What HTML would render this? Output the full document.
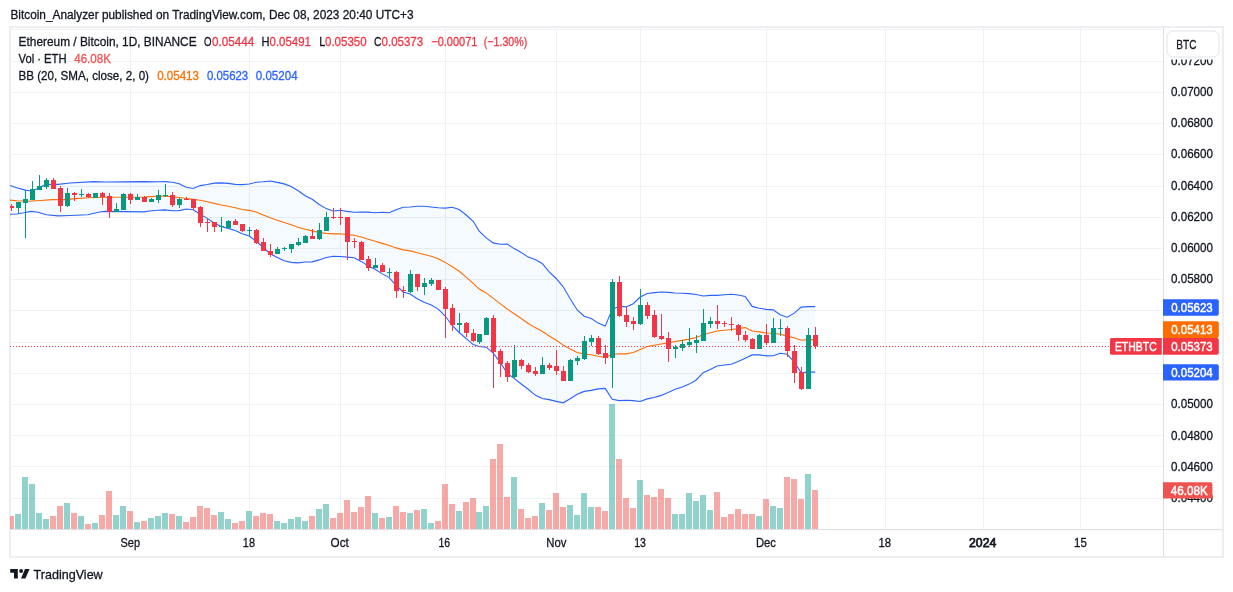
<!DOCTYPE html><html><head><meta charset="utf-8"><style>html,body{margin:0;padding:0;background:#fff;}body{width:1233px;height:592px;overflow:hidden;position:relative;}</style></head><body><svg width="1233" height="592" viewBox="0 0 1233 592" style="position:absolute;left:0;top:0;will-change:transform">
<defs><clipPath id="pane"><rect x="10" y="28" width="1153" height="501"/></clipPath></defs>
<g shape-rendering="crispEdges"><rect x="9" y="26" width="1215" height="2" fill="#eceef3"/><rect x="9" y="556" width="1215" height="2" fill="#eceef3"/><rect x="9" y="26" width="2" height="532" fill="#eceef3"/><rect x="1222" y="26" width="2" height="532" fill="#eceef3"/><rect x="1163" y="28" width="1" height="528" fill="#dedfe3"/><rect x="11" y="529" width="1211" height="1" fill="#dedfe3"/></g>
<g fill="#eff1f3" shape-rendering="crispEdges"><rect x="10" y="29" width="1153" height="1"/><rect x="10" y="61" width="1153" height="1"/><rect x="10" y="92" width="1153" height="1"/><rect x="10" y="123" width="1153" height="1"/><rect x="10" y="154" width="1153" height="1"/><rect x="10" y="186" width="1153" height="1"/><rect x="10" y="217" width="1153" height="1"/><rect x="10" y="248" width="1153" height="1"/><rect x="10" y="279" width="1153" height="1"/><rect x="10" y="310" width="1153" height="1"/><rect x="10" y="342" width="1153" height="1"/><rect x="10" y="373" width="1153" height="1"/><rect x="10" y="404" width="1153" height="1"/><rect x="10" y="435" width="1153" height="1"/><rect x="10" y="466" width="1153" height="1"/><rect x="10" y="498" width="1153" height="1"/><rect x="130" y="28" width="1" height="501"/><rect x="249" y="28" width="1" height="501"/><rect x="340" y="28" width="1" height="501"/><rect x="445" y="28" width="1" height="501"/><rect x="556" y="28" width="1" height="501"/><rect x="640" y="28" width="1" height="501"/><rect x="766" y="28" width="1" height="501"/><rect x="885" y="28" width="1" height="501"/><rect x="983" y="28" width="1" height="501"/><rect x="1080" y="28" width="1" height="501"/></g>
<g clip-path="url(#pane)">
<polygon points="10.0,185.4 16.8,187.7 25.3,190.1 29.8,190.7 35.7,189.5 44.0,185.4 52.3,184.2 58.2,184.4 70.0,183.0 93.7,181.6 105.0,182.0 144.2,181.6 151.2,181.9 158.2,181.8 165.2,181.6 172.2,182.3 179.2,183.8 186.2,187.3 193.2,188.5 200.2,185.6 207.2,184.5 214.2,183.1 221.2,182.9 228.2,183.4 235.2,184.4 242.2,184.6 249.2,184.0 256.2,182.2 263.2,181.7 270.2,181.0 277.2,182.4 284.2,183.9 291.2,186.6 298.2,190.8 305.2,195.8 312.2,199.3 319.2,204.5 326.2,208.6 333.2,211.0 340.2,210.2 347.2,211.4 354.2,212.2 361.2,212.0 368.2,212.1 375.2,212.8 382.2,212.3 389.2,212.8 396.2,209.7 403.2,207.3 410.2,207.0 417.2,206.2 424.2,206.2 431.2,207.0 438.2,207.8 445.2,208.1 452.2,207.2 459.2,209.6 466.2,215.0 473.2,221.3 479.2,231.1 486.2,237.9 493.2,242.9 500.2,244.3 507.2,244.1 514.2,248.6 521.2,252.4 528.2,257.1 535.2,259.5 542.2,263.5 549.2,271.8 556.2,278.5 563.2,286.8 570.2,298.7 577.2,310.0 584.2,316.2 591.2,318.5 598.2,323.1 605.2,326.1 612.2,309.3 619.2,306.2 626.2,306.9 633.2,303.7 640.2,297.0 647.2,293.5 654.2,292.6 661.2,292.0 668.2,292.4 675.2,293.0 682.2,293.2 689.2,293.6 696.2,294.5 703.2,296.0 710.2,295.4 717.2,295.4 724.2,294.8 731.2,294.2 738.2,295.0 745.2,296.4 752.2,306.4 759.2,308.3 766.2,309.4 773.2,309.9 780.2,314.7 787.2,317.2 794.2,313.1 801.2,307.1 808.2,306.6 815.2,306.6 815.2,372.1 808.2,372.1 801.2,372.9 794.2,362.0 787.2,354.3 780.2,353.3 773.2,355.8 766.2,355.9 759.2,354.9 752.2,354.9 745.2,358.3 738.2,361.4 731.2,364.2 724.2,365.0 717.2,366.0 710.2,369.4 703.2,372.7 696.2,380.0 689.2,384.1 682.2,387.0 675.2,389.3 668.2,392.6 661.2,395.4 654.2,397.5 647.2,398.9 640.2,401.5 633.2,400.6 626.2,400.2 619.2,400.6 612.2,399.2 605.2,388.4 598.2,388.9 591.2,390.4 584.2,391.4 577.2,394.3 570.2,398.8 563.2,402.8 556.2,401.4 549.2,399.6 542.2,398.5 535.2,395.1 528.2,389.3 521.2,384.0 514.2,378.4 507.2,373.4 500.2,362.3 493.2,353.2 486.2,347.2 479.2,346.5 473.2,344.6 466.2,338.7 459.2,332.5 452.2,325.5 445.2,316.0 438.2,309.1 431.2,305.1 424.2,302.3 417.2,298.7 410.2,294.1 403.2,291.9 396.2,285.5 389.2,277.6 382.2,273.9 375.2,269.2 368.2,265.9 361.2,261.4 354.2,257.8 347.2,257.1 340.2,256.5 333.2,256.2 326.2,257.5 319.2,259.9 312.2,261.9 305.2,262.0 298.2,262.9 291.2,262.4 284.2,260.7 277.2,257.5 270.2,253.7 263.2,247.5 256.2,241.3 249.2,236.1 242.2,233.7 235.2,230.5 228.2,228.4 221.2,226.5 214.2,223.0 207.2,218.4 200.2,214.3 193.2,209.7 186.2,209.0 179.2,210.6 172.2,210.8 165.2,209.9 158.2,210.2 151.2,210.8 144.2,211.9 105.0,211.4 99.6,212.0 87.7,214.7 70.0,215.5 58.2,215.9 46.4,214.7 38.1,212.3 31.0,211.4 23.9,212.8 16.8,214.0 10.0,214.3" fill="#2196f3" fill-opacity="0.05"/>
<g shape-rendering="crispEdges"><rect x="8" y="516.0" width="6" height="13.0" fill="rgba(239,83,80,0.5)"/><rect x="15" y="514.0" width="6" height="15.0" fill="rgba(38,166,154,0.5)"/><rect x="22" y="477.0" width="6" height="52.0" fill="rgba(38,166,154,0.5)"/><rect x="29" y="484.0" width="6" height="45.0" fill="rgba(38,166,154,0.5)"/><rect x="36" y="513.0" width="6" height="16.0" fill="rgba(38,166,154,0.5)"/><rect x="43" y="519.0" width="6" height="10.0" fill="rgba(38,166,154,0.5)"/><rect x="50" y="516.0" width="6" height="13.0" fill="rgba(239,83,80,0.5)"/><rect x="57" y="506.0" width="6" height="23.0" fill="rgba(239,83,80,0.5)"/><rect x="64" y="503.0" width="6" height="26.0" fill="rgba(38,166,154,0.5)"/><rect x="71" y="513.0" width="6" height="16.0" fill="rgba(239,83,80,0.5)"/><rect x="78" y="516.0" width="6" height="13.0" fill="rgba(38,166,154,0.5)"/><rect x="85" y="524.0" width="6" height="5.0" fill="rgba(239,83,80,0.5)"/><rect x="92" y="523.0" width="6" height="6.0" fill="rgba(38,166,154,0.5)"/><rect x="99" y="515.0" width="6" height="14.0" fill="rgba(239,83,80,0.5)"/><rect x="106" y="491.0" width="6" height="38.0" fill="rgba(239,83,80,0.5)"/><rect x="113" y="515.0" width="6" height="14.0" fill="rgba(38,166,154,0.5)"/><rect x="120" y="506.0" width="6" height="23.0" fill="rgba(38,166,154,0.5)"/><rect x="127" y="511.0" width="6" height="18.0" fill="rgba(239,83,80,0.5)"/><rect x="134" y="522.0" width="6" height="7.0" fill="rgba(38,166,154,0.5)"/><rect x="141" y="521.0" width="6" height="8.0" fill="rgba(239,83,80,0.5)"/><rect x="148" y="518.0" width="6" height="11.0" fill="rgba(38,166,154,0.5)"/><rect x="155" y="516.0" width="6" height="13.0" fill="rgba(38,166,154,0.5)"/><rect x="162" y="513.0" width="6" height="16.0" fill="rgba(38,166,154,0.5)"/><rect x="169" y="514.0" width="6" height="15.0" fill="rgba(239,83,80,0.5)"/><rect x="176" y="516.0" width="6" height="13.0" fill="rgba(38,166,154,0.5)"/><rect x="183" y="522.0" width="6" height="7.0" fill="rgba(239,83,80,0.5)"/><rect x="190" y="517.0" width="6" height="12.0" fill="rgba(239,83,80,0.5)"/><rect x="197" y="506.0" width="6" height="23.0" fill="rgba(239,83,80,0.5)"/><rect x="204" y="508.0" width="6" height="21.0" fill="rgba(239,83,80,0.5)"/><rect x="211" y="515.0" width="6" height="14.0" fill="rgba(239,83,80,0.5)"/><rect x="218" y="512.0" width="6" height="17.0" fill="rgba(38,166,154,0.5)"/><rect x="225" y="519.0" width="6" height="10.0" fill="rgba(38,166,154,0.5)"/><rect x="232" y="523.0" width="6" height="6.0" fill="rgba(239,83,80,0.5)"/><rect x="239" y="521.0" width="6" height="8.0" fill="rgba(239,83,80,0.5)"/><rect x="246" y="511.0" width="6" height="18.0" fill="rgba(38,166,154,0.5)"/><rect x="253" y="516.0" width="6" height="13.0" fill="rgba(239,83,80,0.5)"/><rect x="260" y="513.0" width="6" height="16.0" fill="rgba(239,83,80,0.5)"/><rect x="267" y="514.0" width="6" height="15.0" fill="rgba(239,83,80,0.5)"/><rect x="274" y="521.0" width="6" height="8.0" fill="rgba(38,166,154,0.5)"/><rect x="281" y="523.0" width="6" height="6.0" fill="rgba(38,166,154,0.5)"/><rect x="288" y="519.0" width="6" height="10.0" fill="rgba(38,166,154,0.5)"/><rect x="295" y="517.0" width="6" height="12.0" fill="rgba(38,166,154,0.5)"/><rect x="302" y="521.0" width="6" height="8.0" fill="rgba(38,166,154,0.5)"/><rect x="309" y="516.0" width="6" height="13.0" fill="rgba(239,83,80,0.5)"/><rect x="316" y="509.0" width="6" height="20.0" fill="rgba(38,166,154,0.5)"/><rect x="323" y="504.0" width="6" height="25.0" fill="rgba(38,166,154,0.5)"/><rect x="330" y="518.0" width="6" height="11.0" fill="rgba(239,83,80,0.5)"/><rect x="337" y="513.0" width="6" height="16.0" fill="rgba(239,83,80,0.5)"/><rect x="344" y="500.0" width="6" height="29.0" fill="rgba(239,83,80,0.5)"/><rect x="351" y="512.0" width="6" height="17.0" fill="rgba(239,83,80,0.5)"/><rect x="358" y="507.0" width="6" height="22.0" fill="rgba(239,83,80,0.5)"/><rect x="365" y="496.0" width="6" height="33.0" fill="rgba(239,83,80,0.5)"/><rect x="372" y="513.0" width="6" height="16.0" fill="rgba(38,166,154,0.5)"/><rect x="379" y="518.0" width="6" height="11.0" fill="rgba(239,83,80,0.5)"/><rect x="386" y="517.0" width="6" height="12.0" fill="rgba(38,166,154,0.5)"/><rect x="393" y="506.0" width="6" height="23.0" fill="rgba(239,83,80,0.5)"/><rect x="400" y="512.0" width="6" height="17.0" fill="rgba(239,83,80,0.5)"/><rect x="407" y="513.0" width="6" height="16.0" fill="rgba(38,166,154,0.5)"/><rect x="414" y="510.0" width="6" height="19.0" fill="rgba(239,83,80,0.5)"/><rect x="421" y="509.0" width="6" height="20.0" fill="rgba(38,166,154,0.5)"/><rect x="428" y="523.0" width="6" height="6.0" fill="rgba(38,166,154,0.5)"/><rect x="435" y="521.0" width="6" height="8.0" fill="rgba(239,83,80,0.5)"/><rect x="442" y="484.0" width="6" height="45.0" fill="rgba(239,83,80,0.5)"/><rect x="449" y="504.0" width="6" height="25.0" fill="rgba(239,83,80,0.5)"/><rect x="456" y="511.0" width="6" height="18.0" fill="rgba(38,166,154,0.5)"/><rect x="463" y="502.0" width="6" height="27.0" fill="rgba(239,83,80,0.5)"/><rect x="470" y="498.0" width="6" height="31.0" fill="rgba(239,83,80,0.5)"/><rect x="476" y="512.0" width="6" height="17.0" fill="rgba(38,166,154,0.5)"/><rect x="483" y="506.0" width="6" height="23.0" fill="rgba(38,166,154,0.5)"/><rect x="490" y="459.0" width="6" height="70.0" fill="rgba(239,83,80,0.5)"/><rect x="497" y="444.0" width="6" height="85.0" fill="rgba(239,83,80,0.5)"/><rect x="504" y="497.0" width="6" height="32.0" fill="rgba(239,83,80,0.5)"/><rect x="511" y="477.0" width="6" height="52.0" fill="rgba(38,166,154,0.5)"/><rect x="518" y="509.0" width="6" height="20.0" fill="rgba(239,83,80,0.5)"/><rect x="525" y="518.0" width="6" height="11.0" fill="rgba(239,83,80,0.5)"/><rect x="532" y="516.0" width="6" height="13.0" fill="rgba(239,83,80,0.5)"/><rect x="539" y="503.0" width="6" height="26.0" fill="rgba(38,166,154,0.5)"/><rect x="546" y="510.0" width="6" height="19.0" fill="rgba(239,83,80,0.5)"/><rect x="553" y="493.0" width="6" height="36.0" fill="rgba(239,83,80,0.5)"/><rect x="560" y="507.0" width="6" height="22.0" fill="rgba(239,83,80,0.5)"/><rect x="567" y="505.0" width="6" height="24.0" fill="rgba(38,166,154,0.5)"/><rect x="574" y="515.0" width="6" height="14.0" fill="rgba(38,166,154,0.5)"/><rect x="581" y="493.0" width="6" height="36.0" fill="rgba(38,166,154,0.5)"/><rect x="588" y="507.0" width="6" height="22.0" fill="rgba(38,166,154,0.5)"/><rect x="595" y="507.0" width="6" height="22.0" fill="rgba(239,83,80,0.5)"/><rect x="602" y="511.0" width="6" height="18.0" fill="rgba(239,83,80,0.5)"/><rect x="609" y="404.0" width="6" height="125.0" fill="rgba(38,166,154,0.5)"/><rect x="616" y="459.0" width="6" height="70.0" fill="rgba(239,83,80,0.5)"/><rect x="623" y="498.0" width="6" height="31.0" fill="rgba(239,83,80,0.5)"/><rect x="630" y="508.0" width="6" height="21.0" fill="rgba(239,83,80,0.5)"/><rect x="637" y="480.0" width="6" height="49.0" fill="rgba(38,166,154,0.5)"/><rect x="644" y="495.0" width="6" height="34.0" fill="rgba(239,83,80,0.5)"/><rect x="651" y="497.0" width="6" height="32.0" fill="rgba(239,83,80,0.5)"/><rect x="658" y="489.0" width="6" height="40.0" fill="rgba(239,83,80,0.5)"/><rect x="665" y="498.0" width="6" height="31.0" fill="rgba(239,83,80,0.5)"/><rect x="672" y="514.0" width="6" height="15.0" fill="rgba(38,166,154,0.5)"/><rect x="679" y="514.0" width="6" height="15.0" fill="rgba(38,166,154,0.5)"/><rect x="686" y="493.0" width="6" height="36.0" fill="rgba(38,166,154,0.5)"/><rect x="693" y="501.0" width="6" height="28.0" fill="rgba(38,166,154,0.5)"/><rect x="700" y="495.0" width="6" height="34.0" fill="rgba(38,166,154,0.5)"/><rect x="707" y="510.0" width="6" height="19.0" fill="rgba(38,166,154,0.5)"/><rect x="714" y="492.0" width="6" height="37.0" fill="rgba(239,83,80,0.5)"/><rect x="721" y="517.0" width="6" height="12.0" fill="rgba(239,83,80,0.5)"/><rect x="728" y="514.0" width="6" height="15.0" fill="rgba(239,83,80,0.5)"/><rect x="735" y="509.0" width="6" height="20.0" fill="rgba(239,83,80,0.5)"/><rect x="742" y="514.0" width="6" height="15.0" fill="rgba(239,83,80,0.5)"/><rect x="749" y="514.0" width="6" height="15.0" fill="rgba(239,83,80,0.5)"/><rect x="756" y="516.0" width="6" height="13.0" fill="rgba(38,166,154,0.5)"/><rect x="763" y="499.0" width="6" height="30.0" fill="rgba(239,83,80,0.5)"/><rect x="770" y="506.0" width="6" height="23.0" fill="rgba(38,166,154,0.5)"/><rect x="777" y="508.0" width="6" height="21.0" fill="rgba(38,166,154,0.5)"/><rect x="784" y="477.0" width="6" height="52.0" fill="rgba(239,83,80,0.5)"/><rect x="791" y="479.0" width="6" height="50.0" fill="rgba(239,83,80,0.5)"/><rect x="798" y="499.0" width="6" height="30.0" fill="rgba(239,83,80,0.5)"/><rect x="805" y="474.0" width="6" height="55.0" fill="rgba(38,166,154,0.5)"/><rect x="812" y="490.0" width="6" height="39.0" fill="rgba(239,83,80,0.5)"/></g>
<polyline points="10.0,185.4 16.8,187.7 25.3,190.1 29.8,190.7 35.7,189.5 44.0,185.4 52.3,184.2 58.2,184.4 70.0,183.0 93.7,181.6 105.0,182.0 144.2,181.6 151.2,181.9 158.2,181.8 165.2,181.6 172.2,182.3 179.2,183.8 186.2,187.3 193.2,188.5 200.2,185.6 207.2,184.5 214.2,183.1 221.2,182.9 228.2,183.4 235.2,184.4 242.2,184.6 249.2,184.0 256.2,182.2 263.2,181.7 270.2,181.0 277.2,182.4 284.2,183.9 291.2,186.6 298.2,190.8 305.2,195.8 312.2,199.3 319.2,204.5 326.2,208.6 333.2,211.0 340.2,210.2 347.2,211.4 354.2,212.2 361.2,212.0 368.2,212.1 375.2,212.8 382.2,212.3 389.2,212.8 396.2,209.7 403.2,207.3 410.2,207.0 417.2,206.2 424.2,206.2 431.2,207.0 438.2,207.8 445.2,208.1 452.2,207.2 459.2,209.6 466.2,215.0 473.2,221.3 479.2,231.1 486.2,237.9 493.2,242.9 500.2,244.3 507.2,244.1 514.2,248.6 521.2,252.4 528.2,257.1 535.2,259.5 542.2,263.5 549.2,271.8 556.2,278.5 563.2,286.8 570.2,298.7 577.2,310.0 584.2,316.2 591.2,318.5 598.2,323.1 605.2,326.1 612.2,309.3 619.2,306.2 626.2,306.9 633.2,303.7 640.2,297.0 647.2,293.5 654.2,292.6 661.2,292.0 668.2,292.4 675.2,293.0 682.2,293.2 689.2,293.6 696.2,294.5 703.2,296.0 710.2,295.4 717.2,295.4 724.2,294.8 731.2,294.2 738.2,295.0 745.2,296.4 752.2,306.4 759.2,308.3 766.2,309.4 773.2,309.9 780.2,314.7 787.2,317.2 794.2,313.1 801.2,307.1 808.2,306.6 815.2,306.6" fill="none" stroke="#2962ff" stroke-width="1.1"/>
<polyline points="10.0,214.3 16.8,214.0 23.9,212.8 31.0,211.4 38.1,212.3 46.4,214.7 58.2,215.9 70.0,215.5 87.7,214.7 99.6,212.0 105.0,211.4 144.2,211.9 151.2,210.8 158.2,210.2 165.2,209.9 172.2,210.8 179.2,210.6 186.2,209.0 193.2,209.7 200.2,214.3 207.2,218.4 214.2,223.0 221.2,226.5 228.2,228.4 235.2,230.5 242.2,233.7 249.2,236.1 256.2,241.3 263.2,247.5 270.2,253.7 277.2,257.5 284.2,260.7 291.2,262.4 298.2,262.9 305.2,262.0 312.2,261.9 319.2,259.9 326.2,257.5 333.2,256.2 340.2,256.5 347.2,257.1 354.2,257.8 361.2,261.4 368.2,265.9 375.2,269.2 382.2,273.9 389.2,277.6 396.2,285.5 403.2,291.9 410.2,294.1 417.2,298.7 424.2,302.3 431.2,305.1 438.2,309.1 445.2,316.0 452.2,325.5 459.2,332.5 466.2,338.7 473.2,344.6 479.2,346.5 486.2,347.2 493.2,353.2 500.2,362.3 507.2,373.4 514.2,378.4 521.2,384.0 528.2,389.3 535.2,395.1 542.2,398.5 549.2,399.6 556.2,401.4 563.2,402.8 570.2,398.8 577.2,394.3 584.2,391.4 591.2,390.4 598.2,388.9 605.2,388.4 612.2,399.2 619.2,400.6 626.2,400.2 633.2,400.6 640.2,401.5 647.2,398.9 654.2,397.5 661.2,395.4 668.2,392.6 675.2,389.3 682.2,387.0 689.2,384.1 696.2,380.0 703.2,372.7 710.2,369.4 717.2,366.0 724.2,365.0 731.2,364.2 738.2,361.4 745.2,358.3 752.2,354.9 759.2,354.9 766.2,355.9 773.2,355.8 780.2,353.3 787.2,354.3 794.2,362.0 801.2,372.9 808.2,372.1 815.2,372.1" fill="none" stroke="#2962ff" stroke-width="1.1"/>
<polyline points="10.0,200.1 16.8,200.7 28.6,201.3 40.5,200.5 52.3,199.6 64.1,199.6 75.9,198.6 87.7,197.8 105.0,197.2 144.2,197.0 151.2,196.6 158.2,196.3 165.2,196.1 172.2,196.8 179.2,197.5 186.2,198.5 193.2,199.4 200.2,200.2 207.2,201.7 214.2,203.4 221.2,205.0 228.2,206.2 235.2,207.8 242.2,209.5 249.2,210.4 256.2,212.0 263.2,214.9 270.2,217.7 277.2,220.3 284.2,222.6 291.2,224.8 298.2,227.2 305.2,229.2 312.2,230.9 319.2,232.5 326.2,233.4 333.2,233.9 340.2,233.7 347.2,234.6 354.2,235.3 361.2,237.0 368.2,239.3 375.2,241.3 382.2,243.4 389.2,245.5 396.2,247.9 403.2,249.9 410.2,250.9 417.2,252.8 424.2,254.5 431.2,256.3 438.2,258.7 445.2,262.4 452.2,266.7 459.2,271.3 466.2,277.1 473.2,283.3 479.2,289.1 486.2,292.9 493.2,298.4 500.2,303.6 507.2,309.0 514.2,313.8 521.2,318.5 528.2,323.5 535.2,327.6 542.2,331.3 549.2,336.0 556.2,340.2 563.2,345.1 570.2,349.1 577.2,352.5 584.2,354.1 591.2,354.8 598.2,356.3 605.2,357.5 612.2,354.6 619.2,353.7 626.2,353.9 633.2,352.5 640.2,349.5 647.2,346.5 654.2,345.3 661.2,344.0 668.2,342.8 675.2,341.5 682.2,340.4 689.2,339.1 696.2,337.5 703.2,334.7 710.2,332.7 717.2,331.0 724.2,330.2 731.2,329.5 738.2,328.5 745.2,327.6 752.2,331.0 759.2,331.9 766.2,333.0 773.2,333.2 780.2,334.3 787.2,336.1 794.2,337.8 801.2,340.3 808.2,339.6 815.2,339.6" fill="none" stroke="#ff6d00" stroke-width="1.1"/>
<g shape-rendering="crispEdges"><rect x="11" y="204" width="1" height="7" fill="#f23645"/><rect x="9" y="206" width="5" height="2" fill="#f23645"/><rect x="18" y="202" width="1" height="11" fill="#089981"/><rect x="16" y="202" width="5" height="6" fill="#089981"/><rect x="25" y="190" width="1" height="48" fill="#089981"/><rect x="23" y="199" width="5" height="4" fill="#089981"/><rect x="32" y="181" width="1" height="19" fill="#089981"/><rect x="30" y="189" width="5" height="11" fill="#089981"/><rect x="39" y="175" width="1" height="15" fill="#089981"/><rect x="37" y="186" width="5" height="4" fill="#089981"/><rect x="46" y="178" width="1" height="11" fill="#089981"/><rect x="44" y="180" width="5" height="7" fill="#089981"/><rect x="53" y="178" width="1" height="11" fill="#f23645"/><rect x="51" y="180" width="5" height="9" fill="#f23645"/><rect x="60" y="186" width="1" height="26" fill="#f23645"/><rect x="58" y="188" width="5" height="18" fill="#f23645"/><rect x="67" y="188" width="1" height="19" fill="#089981"/><rect x="65" y="193" width="5" height="13" fill="#089981"/><rect x="74" y="192" width="1" height="9" fill="#f23645"/><rect x="72" y="193" width="5" height="2" fill="#f23645"/><rect x="81" y="189" width="1" height="8" fill="#089981"/><rect x="79" y="194" width="5" height="1" fill="#089981"/><rect x="88" y="193" width="1" height="5" fill="#f23645"/><rect x="86" y="194" width="5" height="3" fill="#f23645"/><rect x="95" y="193" width="1" height="5" fill="#089981"/><rect x="93" y="193" width="5" height="5" fill="#089981"/><rect x="102" y="192" width="1" height="13" fill="#f23645"/><rect x="100" y="193" width="5" height="4" fill="#f23645"/><rect x="109" y="193" width="1" height="25" fill="#f23645"/><rect x="107" y="196" width="5" height="16" fill="#f23645"/><rect x="116" y="203" width="1" height="9" fill="#089981"/><rect x="114" y="209" width="5" height="3" fill="#089981"/><rect x="123" y="193" width="1" height="17" fill="#089981"/><rect x="121" y="194" width="5" height="16" fill="#089981"/><rect x="130" y="193" width="1" height="11" fill="#f23645"/><rect x="128" y="194" width="5" height="6" fill="#f23645"/><rect x="137" y="194" width="1" height="6" fill="#089981"/><rect x="135" y="197" width="5" height="3" fill="#089981"/><rect x="144" y="196" width="1" height="6" fill="#f23645"/><rect x="142" y="197" width="5" height="5" fill="#f23645"/><rect x="151" y="198" width="1" height="4" fill="#089981"/><rect x="149" y="199" width="5" height="3" fill="#089981"/><rect x="158" y="190" width="1" height="13" fill="#089981"/><rect x="156" y="195" width="5" height="5" fill="#089981"/><rect x="165" y="184" width="1" height="13" fill="#089981"/><rect x="163" y="195" width="5" height="1" fill="#089981"/><rect x="172" y="192" width="1" height="15" fill="#f23645"/><rect x="170" y="195" width="5" height="10" fill="#f23645"/><rect x="179" y="198" width="1" height="10" fill="#089981"/><rect x="177" y="199" width="5" height="6" fill="#089981"/><rect x="186" y="197" width="1" height="3" fill="#f23645"/><rect x="184" y="199" width="5" height="1" fill="#f23645"/><rect x="193" y="199" width="1" height="11" fill="#f23645"/><rect x="191" y="199" width="5" height="9" fill="#f23645"/><rect x="200" y="206" width="1" height="21" fill="#f23645"/><rect x="198" y="207" width="5" height="16" fill="#f23645"/><rect x="207" y="219" width="1" height="13" fill="#f23645"/><rect x="205" y="222" width="5" height="1" fill="#f23645"/><rect x="214" y="222" width="1" height="10" fill="#f23645"/><rect x="212" y="222" width="5" height="5" fill="#f23645"/><rect x="221" y="217" width="1" height="15" fill="#089981"/><rect x="219" y="226" width="5" height="1" fill="#089981"/><rect x="228" y="220" width="1" height="9" fill="#089981"/><rect x="226" y="221" width="5" height="7" fill="#089981"/><rect x="235" y="219" width="1" height="6" fill="#f23645"/><rect x="233" y="221" width="5" height="4" fill="#f23645"/><rect x="242" y="224" width="1" height="8" fill="#f23645"/><rect x="240" y="224" width="5" height="7" fill="#f23645"/><rect x="249" y="227" width="1" height="10" fill="#089981"/><rect x="247" y="230" width="5" height="1" fill="#089981"/><rect x="256" y="229" width="1" height="15" fill="#f23645"/><rect x="254" y="230" width="5" height="13" fill="#f23645"/><rect x="263" y="238" width="1" height="13" fill="#f23645"/><rect x="261" y="242" width="5" height="9" fill="#f23645"/><rect x="270" y="244" width="1" height="13" fill="#f23645"/><rect x="268" y="251" width="5" height="4" fill="#f23645"/><rect x="277" y="247" width="1" height="7" fill="#089981"/><rect x="275" y="249" width="5" height="5" fill="#089981"/><rect x="284" y="247" width="1" height="4" fill="#089981"/><rect x="282" y="248" width="5" height="1" fill="#089981"/><rect x="291" y="244" width="1" height="9" fill="#089981"/><rect x="289" y="244" width="5" height="5" fill="#089981"/><rect x="298" y="238" width="1" height="8" fill="#089981"/><rect x="296" y="242" width="5" height="3" fill="#089981"/><rect x="305" y="235" width="1" height="8" fill="#089981"/><rect x="303" y="236" width="5" height="7" fill="#089981"/><rect x="312" y="229" width="1" height="10" fill="#f23645"/><rect x="310" y="236" width="5" height="3" fill="#f23645"/><rect x="319" y="223" width="1" height="17" fill="#089981"/><rect x="317" y="230" width="5" height="9" fill="#089981"/><rect x="326" y="212" width="1" height="19" fill="#089981"/><rect x="324" y="217" width="5" height="14" fill="#089981"/><rect x="333" y="208" width="1" height="11" fill="#f23645"/><rect x="331" y="217" width="5" height="1" fill="#f23645"/><rect x="340" y="208" width="1" height="17" fill="#f23645"/><rect x="338" y="217" width="5" height="1" fill="#f23645"/><rect x="347" y="217" width="1" height="43" fill="#f23645"/><rect x="345" y="217" width="5" height="25" fill="#f23645"/><rect x="354" y="238" width="1" height="10" fill="#f23645"/><rect x="352" y="241" width="5" height="1" fill="#f23645"/><rect x="361" y="241" width="1" height="19" fill="#f23645"/><rect x="359" y="242" width="5" height="18" fill="#f23645"/><rect x="368" y="256" width="1" height="15" fill="#f23645"/><rect x="366" y="259" width="5" height="9" fill="#f23645"/><rect x="375" y="258" width="1" height="10" fill="#089981"/><rect x="373" y="265" width="5" height="3" fill="#089981"/><rect x="382" y="263" width="1" height="9" fill="#f23645"/><rect x="380" y="265" width="5" height="7" fill="#f23645"/><rect x="389" y="268" width="1" height="9" fill="#089981"/><rect x="387" y="272" width="5" height="1" fill="#089981"/><rect x="396" y="271" width="1" height="27" fill="#f23645"/><rect x="394" y="272" width="5" height="19" fill="#f23645"/><rect x="403" y="286" width="1" height="12" fill="#f23645"/><rect x="401" y="290" width="5" height="1" fill="#f23645"/><rect x="410" y="270" width="1" height="23" fill="#089981"/><rect x="408" y="274" width="5" height="18" fill="#089981"/><rect x="417" y="274" width="1" height="17" fill="#f23645"/><rect x="415" y="274" width="5" height="13" fill="#f23645"/><rect x="424" y="278" width="1" height="17" fill="#089981"/><rect x="422" y="283" width="5" height="4" fill="#089981"/><rect x="431" y="278" width="1" height="8" fill="#089981"/><rect x="429" y="280" width="5" height="4" fill="#089981"/><rect x="438" y="280" width="1" height="10" fill="#f23645"/><rect x="436" y="280" width="5" height="10" fill="#f23645"/><rect x="445" y="287" width="1" height="51" fill="#f23645"/><rect x="443" y="289" width="5" height="20" fill="#f23645"/><rect x="452" y="304" width="1" height="27" fill="#f23645"/><rect x="450" y="308" width="5" height="17" fill="#f23645"/><rect x="459" y="313" width="1" height="19" fill="#089981"/><rect x="457" y="323" width="5" height="2" fill="#089981"/><rect x="466" y="322" width="1" height="15" fill="#f23645"/><rect x="464" y="323" width="5" height="10" fill="#f23645"/><rect x="473" y="329" width="1" height="13" fill="#f23645"/><rect x="471" y="333" width="5" height="8" fill="#f23645"/><rect x="479" y="334" width="1" height="10" fill="#089981"/><rect x="477" y="334" width="5" height="8" fill="#089981"/><rect x="486" y="317" width="1" height="18" fill="#089981"/><rect x="484" y="318" width="5" height="17" fill="#089981"/><rect x="493" y="315" width="1" height="73" fill="#f23645"/><rect x="491" y="318" width="5" height="34" fill="#f23645"/><rect x="500" y="349" width="1" height="28" fill="#f23645"/><rect x="498" y="351" width="5" height="13" fill="#f23645"/><rect x="507" y="361" width="1" height="21" fill="#f23645"/><rect x="505" y="363" width="5" height="14" fill="#f23645"/><rect x="514" y="345" width="1" height="34" fill="#089981"/><rect x="512" y="360" width="5" height="17" fill="#089981"/><rect x="521" y="359" width="1" height="10" fill="#f23645"/><rect x="519" y="360" width="5" height="6" fill="#f23645"/><rect x="528" y="363" width="1" height="10" fill="#f23645"/><rect x="526" y="365" width="5" height="7" fill="#f23645"/><rect x="535" y="367" width="1" height="9" fill="#f23645"/><rect x="533" y="371" width="5" height="3" fill="#f23645"/><rect x="542" y="357" width="1" height="17" fill="#089981"/><rect x="540" y="365" width="5" height="9" fill="#089981"/><rect x="549" y="363" width="1" height="7" fill="#f23645"/><rect x="547" y="365" width="5" height="3" fill="#f23645"/><rect x="556" y="350" width="1" height="25" fill="#f23645"/><rect x="554" y="366" width="5" height="5" fill="#f23645"/><rect x="563" y="366" width="1" height="15" fill="#f23645"/><rect x="561" y="371" width="5" height="10" fill="#f23645"/><rect x="570" y="359" width="1" height="22" fill="#089981"/><rect x="568" y="360" width="5" height="21" fill="#089981"/><rect x="577" y="356" width="1" height="9" fill="#089981"/><rect x="575" y="358" width="5" height="3" fill="#089981"/><rect x="584" y="336" width="1" height="24" fill="#089981"/><rect x="582" y="341" width="5" height="18" fill="#089981"/><rect x="591" y="335" width="1" height="11" fill="#089981"/><rect x="589" y="338" width="5" height="4" fill="#089981"/><rect x="598" y="336" width="1" height="19" fill="#f23645"/><rect x="596" y="338" width="5" height="16" fill="#f23645"/><rect x="605" y="345" width="1" height="19" fill="#f23645"/><rect x="603" y="353" width="5" height="5" fill="#f23645"/><rect x="612" y="279" width="1" height="109" fill="#089981"/><rect x="610" y="282" width="5" height="76" fill="#089981"/><rect x="619" y="276" width="1" height="41" fill="#f23645"/><rect x="617" y="282" width="5" height="34" fill="#f23645"/><rect x="626" y="307" width="1" height="20" fill="#f23645"/><rect x="624" y="315" width="5" height="7" fill="#f23645"/><rect x="633" y="317" width="1" height="13" fill="#f23645"/><rect x="631" y="321" width="5" height="3" fill="#f23645"/><rect x="640" y="289" width="1" height="36" fill="#089981"/><rect x="638" y="305" width="5" height="19" fill="#089981"/><rect x="647" y="302" width="1" height="17" fill="#f23645"/><rect x="645" y="305" width="5" height="11" fill="#f23645"/><rect x="654" y="310" width="1" height="28" fill="#f23645"/><rect x="652" y="315" width="5" height="22" fill="#f23645"/><rect x="661" y="314" width="1" height="26" fill="#f23645"/><rect x="659" y="336" width="5" height="3" fill="#f23645"/><rect x="668" y="332" width="1" height="30" fill="#f23645"/><rect x="666" y="338" width="5" height="11" fill="#f23645"/><rect x="675" y="345" width="1" height="13" fill="#089981"/><rect x="673" y="347" width="5" height="2" fill="#089981"/><rect x="682" y="340" width="1" height="11" fill="#089981"/><rect x="680" y="344" width="5" height="4" fill="#089981"/><rect x="689" y="328" width="1" height="19" fill="#089981"/><rect x="687" y="342" width="5" height="3" fill="#089981"/><rect x="696" y="335" width="1" height="18" fill="#089981"/><rect x="694" y="340" width="5" height="3" fill="#089981"/><rect x="703" y="309" width="1" height="32" fill="#089981"/><rect x="701" y="323" width="5" height="18" fill="#089981"/><rect x="710" y="317" width="1" height="11" fill="#089981"/><rect x="708" y="321" width="5" height="3" fill="#089981"/><rect x="717" y="305" width="1" height="24" fill="#f23645"/><rect x="715" y="321" width="5" height="3" fill="#f23645"/><rect x="724" y="321" width="1" height="6" fill="#f23645"/><rect x="722" y="323" width="5" height="1" fill="#f23645"/><rect x="731" y="317" width="1" height="14" fill="#f23645"/><rect x="729" y="324" width="5" height="1" fill="#f23645"/><rect x="738" y="324" width="1" height="17" fill="#f23645"/><rect x="736" y="325" width="5" height="10" fill="#f23645"/><rect x="745" y="331" width="1" height="11" fill="#f23645"/><rect x="743" y="335" width="5" height="5" fill="#f23645"/><rect x="752" y="338" width="1" height="11" fill="#f23645"/><rect x="750" y="339" width="5" height="10" fill="#f23645"/><rect x="759" y="334" width="1" height="15" fill="#089981"/><rect x="757" y="335" width="5" height="14" fill="#089981"/><rect x="766" y="324" width="1" height="21" fill="#f23645"/><rect x="764" y="335" width="5" height="8" fill="#f23645"/><rect x="773" y="318" width="1" height="25" fill="#089981"/><rect x="771" y="328" width="5" height="15" fill="#089981"/><rect x="780" y="319" width="1" height="17" fill="#089981"/><rect x="778" y="328" width="5" height="1" fill="#089981"/><rect x="787" y="326" width="1" height="31" fill="#f23645"/><rect x="785" y="328" width="5" height="23" fill="#f23645"/><rect x="794" y="345" width="1" height="38" fill="#f23645"/><rect x="792" y="351" width="5" height="22" fill="#f23645"/><rect x="801" y="367" width="1" height="23" fill="#f23645"/><rect x="799" y="372" width="5" height="17" fill="#f23645"/><rect x="808" y="328" width="1" height="61" fill="#089981"/><rect x="806" y="335" width="5" height="54" fill="#089981"/><rect x="815" y="327" width="1" height="22" fill="#f23645"/><rect x="813" y="335" width="5" height="11" fill="#f23645"/></g>
</g>
<line x1="10" y1="346.5" x2="1110" y2="346.5" stroke="#f23645" stroke-width="1" stroke-dasharray="1 2" shape-rendering="crispEdges"/>
<text x="10.4" y="19" font-family="Liberation Sans, sans-serif" font-size="12.5" fill="#131722" text-anchor="start" font-weight="normal" textLength="403.1" lengthAdjust="spacingAndGlyphs" stroke="#131722" stroke-width="0.3">Bitcoin_Analyzer published on TradingView.com, Dec 08, 2023 20:40 UTC+3</text>
<text x="18.6" y="46" font-family="Liberation Sans, sans-serif" font-size="12.5" fill="#131722" text-anchor="start" font-weight="normal" textLength="178.0" lengthAdjust="spacingAndGlyphs" stroke="#131722" stroke-width="0.3">Ethereum / Bitcoin, 1D, BINANCE</text>
<text x="203.9" y="46" font-family="Liberation Sans, sans-serif" font-size="12.5" fill="#131722" text-anchor="start" font-weight="normal" textLength="7.5" lengthAdjust="spacingAndGlyphs" stroke="#131722" stroke-width="0.3">O</text>
<text x="211.9" y="46" font-family="Liberation Sans, sans-serif" font-size="12.5" fill="#f23645" text-anchor="start" font-weight="normal" textLength="42.3" lengthAdjust="spacingAndGlyphs" stroke="#f23645" stroke-width="0.3">0.05444</text>
<text x="261.5" y="46" font-family="Liberation Sans, sans-serif" font-size="12.5" fill="#131722" text-anchor="start" font-weight="normal" textLength="8.0" lengthAdjust="spacingAndGlyphs" stroke="#131722" stroke-width="0.3">H</text>
<text x="269.6" y="46" font-family="Liberation Sans, sans-serif" font-size="12.5" fill="#f23645" text-anchor="start" font-weight="normal" textLength="41.3" lengthAdjust="spacingAndGlyphs" stroke="#f23645" stroke-width="0.3">0.05491</text>
<text x="319.2" y="46" font-family="Liberation Sans, sans-serif" font-size="12.5" fill="#131722" text-anchor="start" font-weight="normal" textLength="6.0" lengthAdjust="spacingAndGlyphs" stroke="#131722" stroke-width="0.3">L</text>
<text x="325" y="46" font-family="Liberation Sans, sans-serif" font-size="12.5" fill="#f23645" text-anchor="start" font-weight="normal" textLength="41.6" lengthAdjust="spacingAndGlyphs" stroke="#f23645" stroke-width="0.3">0.05350</text>
<text x="373.9" y="46" font-family="Liberation Sans, sans-serif" font-size="12.5" fill="#131722" text-anchor="start" font-weight="normal" textLength="7.5" lengthAdjust="spacingAndGlyphs" stroke="#131722" stroke-width="0.3">C</text>
<text x="381.6" y="46" font-family="Liberation Sans, sans-serif" font-size="12.5" fill="#f23645" text-anchor="start" font-weight="normal" textLength="41.5" lengthAdjust="spacingAndGlyphs" stroke="#f23645" stroke-width="0.3">0.05373</text>
<text x="431.2" y="46" font-family="Liberation Sans, sans-serif" font-size="12.5" fill="#f23645" text-anchor="start" font-weight="normal" textLength="46.3" lengthAdjust="spacingAndGlyphs" stroke="#f23645" stroke-width="0.3">−0.00071</text>
<text x="483.8" y="46" font-family="Liberation Sans, sans-serif" font-size="12.5" fill="#f23645" text-anchor="start" font-weight="normal" textLength="43.4" lengthAdjust="spacingAndGlyphs" stroke="#f23645" stroke-width="0.3">(−1.30%)</text>
<text x="18.5" y="63" font-family="Liberation Sans, sans-serif" font-size="12.5" fill="#131722" text-anchor="start" font-weight="normal" textLength="48.1" lengthAdjust="spacingAndGlyphs" stroke="#131722" stroke-width="0.3">Vol · ETH</text>
<text x="74.2" y="63" font-family="Liberation Sans, sans-serif" font-size="12.5" fill="#ef5350" text-anchor="start" font-weight="normal" textLength="36.8" lengthAdjust="spacingAndGlyphs" stroke="#ef5350" stroke-width="0.3">46.08K</text>
<text x="18.5" y="80" font-family="Liberation Sans, sans-serif" font-size="12.5" fill="#131722" text-anchor="start" font-weight="normal" textLength="130.5" lengthAdjust="spacingAndGlyphs" stroke="#131722" stroke-width="0.3">BB (20, SMA, close, 2, 0)</text>
<text x="157.2" y="80" font-family="Liberation Sans, sans-serif" font-size="12.5" fill="#ff6d00" text-anchor="start" font-weight="normal" textLength="41.8" lengthAdjust="spacingAndGlyphs" stroke="#ff6d00" stroke-width="0.3">0.05413</text>
<text x="206.9" y="80" font-family="Liberation Sans, sans-serif" font-size="12.5" fill="#2962ff" text-anchor="start" font-weight="normal" textLength="41.3" lengthAdjust="spacingAndGlyphs" stroke="#2962ff" stroke-width="0.3">0.05623</text>
<text x="255.8" y="80" font-family="Liberation Sans, sans-serif" font-size="12.5" fill="#2962ff" text-anchor="start" font-weight="normal" textLength="41.8" lengthAdjust="spacingAndGlyphs" stroke="#2962ff" stroke-width="0.3">0.05204</text>
<text x="1171" y="65" font-family="Liberation Sans, sans-serif" font-size="12.5" fill="#131722" text-anchor="start" font-weight="normal" textLength="42.0" lengthAdjust="spacingAndGlyphs" stroke="#131722" stroke-width="0.3">0.07200</text>
<text x="1171" y="96" font-family="Liberation Sans, sans-serif" font-size="12.5" fill="#131722" text-anchor="start" font-weight="normal" textLength="42.0" lengthAdjust="spacingAndGlyphs" stroke="#131722" stroke-width="0.3">0.07000</text>
<text x="1171" y="127" font-family="Liberation Sans, sans-serif" font-size="12.5" fill="#131722" text-anchor="start" font-weight="normal" textLength="42.0" lengthAdjust="spacingAndGlyphs" stroke="#131722" stroke-width="0.3">0.06800</text>
<text x="1171" y="158" font-family="Liberation Sans, sans-serif" font-size="12.5" fill="#131722" text-anchor="start" font-weight="normal" textLength="42.0" lengthAdjust="spacingAndGlyphs" stroke="#131722" stroke-width="0.3">0.06600</text>
<text x="1171" y="190" font-family="Liberation Sans, sans-serif" font-size="12.5" fill="#131722" text-anchor="start" font-weight="normal" textLength="42.0" lengthAdjust="spacingAndGlyphs" stroke="#131722" stroke-width="0.3">0.06400</text>
<text x="1171" y="221" font-family="Liberation Sans, sans-serif" font-size="12.5" fill="#131722" text-anchor="start" font-weight="normal" textLength="42.0" lengthAdjust="spacingAndGlyphs" stroke="#131722" stroke-width="0.3">0.06200</text>
<text x="1171" y="252" font-family="Liberation Sans, sans-serif" font-size="12.5" fill="#131722" text-anchor="start" font-weight="normal" textLength="42.0" lengthAdjust="spacingAndGlyphs" stroke="#131722" stroke-width="0.3">0.06000</text>
<text x="1171" y="283" font-family="Liberation Sans, sans-serif" font-size="12.5" fill="#131722" text-anchor="start" font-weight="normal" textLength="42.0" lengthAdjust="spacingAndGlyphs" stroke="#131722" stroke-width="0.3">0.05800</text>
<text x="1171" y="408" font-family="Liberation Sans, sans-serif" font-size="12.5" fill="#131722" text-anchor="start" font-weight="normal" textLength="42.0" lengthAdjust="spacingAndGlyphs" stroke="#131722" stroke-width="0.3">0.05000</text>
<text x="1171" y="440" font-family="Liberation Sans, sans-serif" font-size="12.5" fill="#131722" text-anchor="start" font-weight="normal" textLength="42.0" lengthAdjust="spacingAndGlyphs" stroke="#131722" stroke-width="0.3">0.04800</text>
<text x="1171" y="471" font-family="Liberation Sans, sans-serif" font-size="12.5" fill="#131722" text-anchor="start" font-weight="normal" textLength="42.0" lengthAdjust="spacingAndGlyphs" stroke="#131722" stroke-width="0.3">0.04600</text>
<text x="1171" y="502" font-family="Liberation Sans, sans-serif" font-size="12.5" fill="#131722" text-anchor="start" font-weight="normal" textLength="42.0" lengthAdjust="spacingAndGlyphs" stroke="#131722" stroke-width="0.3">0.04400</text>
<path d="M1163,482.3 H1210.4 a2,2 0 0 1 2,2 V496.5 a2,2 0 0 1 -2,2 H1163 Z" fill="#ef5350"/>
<text x="1170.8" y="495" font-family="Liberation Sans, sans-serif" font-size="12.5" fill="#ffffff" text-anchor="start" font-weight="normal" textLength="37.0" lengthAdjust="spacingAndGlyphs" stroke="#ffffff" stroke-width="0.45">46.08K</text>
<path d="M1163,299.3 H1216.8 a2,2 0 0 1 2,2 V313.8 a2,2 0 0 1 -2,2 H1163 Z" fill="#2962ff"/>
<text x="1171.2" y="312" font-family="Liberation Sans, sans-serif" font-size="12.5" fill="#ffffff" text-anchor="start" font-weight="normal" textLength="41.5" lengthAdjust="spacingAndGlyphs" stroke="#ffffff" stroke-width="0.45">0.05623</text>
<path d="M1163,321.2 H1216.8 a2,2 0 0 1 2,2 V336.0 a2,2 0 0 1 -2,2 H1163 Z" fill="#ff6d00"/>
<text x="1171.2" y="334" font-family="Liberation Sans, sans-serif" font-size="12.5" fill="#ffffff" text-anchor="start" font-weight="normal" textLength="41.5" lengthAdjust="spacingAndGlyphs" stroke="#ffffff" stroke-width="0.45">0.05413</text>
<path d="M1163,338.0 H1216.8 a2,2 0 0 1 2,2 V352.8 a2,2 0 0 1 -2,2 H1163 Z" fill="#f23645"/>
<text x="1171.2" y="351" font-family="Liberation Sans, sans-serif" font-size="12.5" fill="#ffffff" text-anchor="start" font-weight="normal" textLength="41.5" lengthAdjust="spacingAndGlyphs" stroke="#ffffff" stroke-width="0.45">0.05373</text>
<path d="M1163,364.2 H1216.8 a2,2 0 0 1 2,2 V378.5 a2,2 0 0 1 -2,2 H1163 Z" fill="#2962ff"/>
<text x="1171.2" y="377" font-family="Liberation Sans, sans-serif" font-size="12.5" fill="#ffffff" text-anchor="start" font-weight="normal" textLength="41.5" lengthAdjust="spacingAndGlyphs" stroke="#ffffff" stroke-width="0.45">0.05204</text>
<path d="M1161.8,338 H1111.5 a1.5,1.5 0 0 0 -1.5,1.5 V353.3 a1.5,1.5 0 0 0 1.5,1.5 H1161.8 Z" fill="#f23645"/>
<text x="1114.9" y="351" font-family="Liberation Sans, sans-serif" font-size="12.5" fill="#ffffff" text-anchor="start" font-weight="normal" textLength="41.8" lengthAdjust="spacingAndGlyphs" stroke="#ffffff" stroke-width="0.45">ETHBTC</text>
<rect x="1164" y="28" width="58" height="31.5" fill="#ffffff"/>
<rect x="1167" y="31" width="52" height="26" rx="6" ry="6" fill="#ffffff" stroke="#e0e3eb" stroke-width="1"/>
<text x="1176.3" y="49" font-family="Liberation Sans, sans-serif" font-size="13" fill="#131722" text-anchor="start" font-weight="normal" textLength="20.2" lengthAdjust="spacingAndGlyphs" stroke="#131722" stroke-width="0.3">BTC</text>
<text x="120.5" y="547" font-family="Liberation Sans, sans-serif" font-size="12.5" fill="#131722" text-anchor="start" font-weight="normal" textLength="19.5" lengthAdjust="spacingAndGlyphs" stroke="#131722" stroke-width="0.3">Sep</text>
<text x="242.8" y="547" font-family="Liberation Sans, sans-serif" font-size="12.5" fill="#131722" text-anchor="start" font-weight="normal" textLength="12.2" lengthAdjust="spacingAndGlyphs" stroke="#131722" stroke-width="0.3">18</text>
<text x="330.6" y="547" font-family="Liberation Sans, sans-serif" font-size="12.5" fill="#131722" text-anchor="start" font-weight="normal" textLength="18.2" lengthAdjust="spacingAndGlyphs" stroke="#131722" stroke-width="0.3">Oct</text>
<text x="438.5" y="547" font-family="Liberation Sans, sans-serif" font-size="12.5" fill="#131722" text-anchor="start" font-weight="normal" textLength="11.7" lengthAdjust="spacingAndGlyphs" stroke="#131722" stroke-width="0.3">16</text>
<text x="546.3" y="547" font-family="Liberation Sans, sans-serif" font-size="12.5" fill="#131722" text-anchor="start" font-weight="normal" textLength="20.1" lengthAdjust="spacingAndGlyphs" stroke="#131722" stroke-width="0.3">Nov</text>
<text x="634.2" y="547" font-family="Liberation Sans, sans-serif" font-size="12.5" fill="#131722" text-anchor="start" font-weight="normal" textLength="11.7" lengthAdjust="spacingAndGlyphs" stroke="#131722" stroke-width="0.3">13</text>
<text x="755.9" y="547" font-family="Liberation Sans, sans-serif" font-size="12.5" fill="#131722" text-anchor="start" font-weight="normal" textLength="20.0" lengthAdjust="spacingAndGlyphs" stroke="#131722" stroke-width="0.3">Dec</text>
<text x="878.5" y="547" font-family="Liberation Sans, sans-serif" font-size="12.5" fill="#131722" text-anchor="start" font-weight="normal" textLength="12.6" lengthAdjust="spacingAndGlyphs" stroke="#131722" stroke-width="0.3">18</text>
<text x="969" y="547" font-family="Liberation Sans, sans-serif" font-size="12.5" fill="#131722" text-anchor="start" font-weight="normal" textLength="27.3" lengthAdjust="spacingAndGlyphs" stroke="#131722" stroke-width="0.75">2024</text>
<text x="1074.1" y="547" font-family="Liberation Sans, sans-serif" font-size="12.5" fill="#131722" text-anchor="start" font-weight="normal" textLength="12.7" lengthAdjust="spacingAndGlyphs" stroke="#131722" stroke-width="0.3">15</text>
<g fill="#131722"><path d="M10.2,569 H17.8 V578.6 H14 V572.8 H10.2 Z"/><circle cx="21.1" cy="571" r="1.9"/><path d="M25.0,569 H29.6 L25.4,578.6 H21.0 Z"/></g>
<text x="33.6" y="578.6" font-family="Liberation Sans, sans-serif" font-size="13" fill="#131722" text-anchor="start" font-weight="normal" textLength="69.1" lengthAdjust="spacingAndGlyphs" stroke="#131722" stroke-width="0.3">TradingView</text>
</svg></body></html>
